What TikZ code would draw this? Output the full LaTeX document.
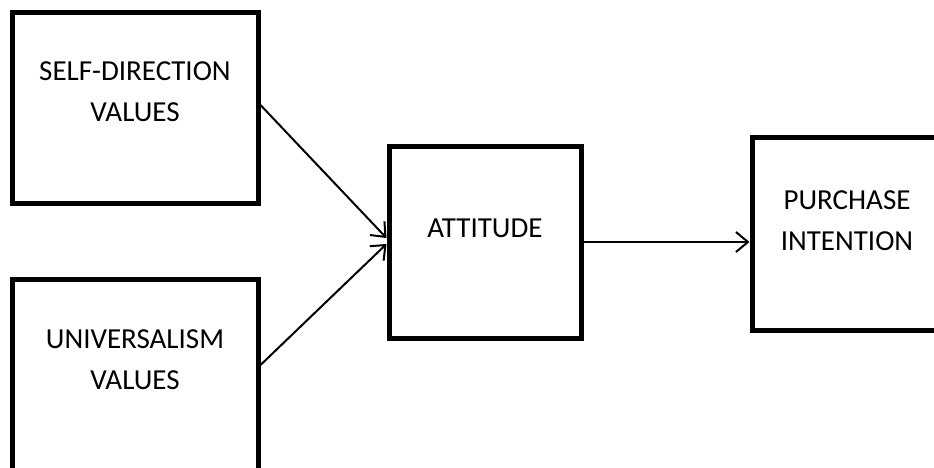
\documentclass[tikz,border=0pt]{standalone}
\usepackage{fontspec}
\setmainfont{Carlito}
\usetikzlibrary{positioning,arrows.meta}

\begin{document}
\begin{tikzpicture}[x=1pt, y=-1pt,
    box/.style={draw, line width=5pt, minimum width=#1},
    lbl/.style={align=center, inner sep=0pt, font=\fontsize{29}{41}\selectfont},
    link/.style={line width=2pt, -{Straight Barb[length=12pt, width=20pt, line width=2pt]}}]
    \clip (0,0) rectangle (934,467);

    \node[box=246pt, minimum height=191pt] (self) at (135, 107.5) {};
    \node[box=246pt, minimum height=191pt] (univ) at (135, 374.5) {};
    \node[box=192pt, minimum height=192pt] (att) at (485, 242) {};
    \node[box=190pt, minimum height=193pt] (pi) at (847, 233.5) {};

    \node[lbl, below=52pt of self.north] (selftxt) {SELF-DIRECTION\\VALUES};
    \node[lbl, below=53pt of univ.north] (univtxt) {UNIVERSALISM\\VALUES};
    \node[lbl, below=75pt of att.north] (atttxt) {ATTITUDE};
    \node[lbl, below=56pt of pi.north] (pitxt) {PURCHASE\\INTENTION};

    \draw[link] ([yshift=2.5pt]self.east) -- ([yshift=4pt]att.west);
    \draw[link] ([yshift=9.5pt]univ.east) -- ([yshift=-2pt]att.west);
    \draw[link] (att.east) -- (att.east -| pi.west);
\end{tikzpicture}
\end{document}
